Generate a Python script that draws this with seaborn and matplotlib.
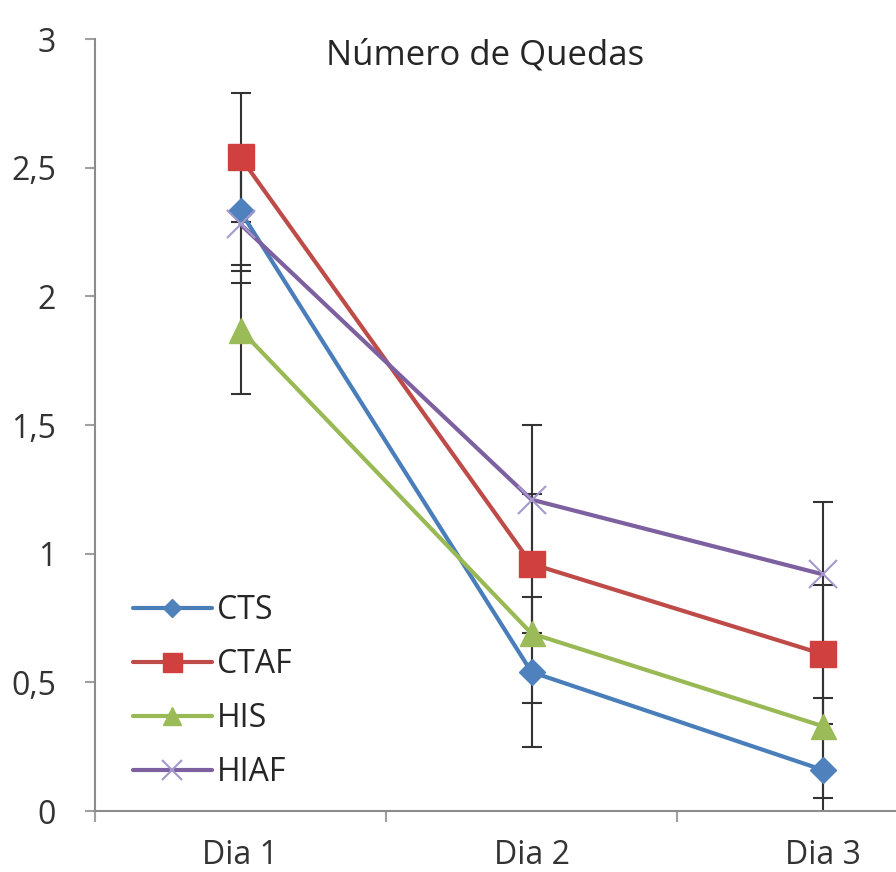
import seaborn as sns
import matplotlib.pyplot as plt
import pandas as pd
from matplotlib.ticker import FixedLocator

dias = ['Dia 1', 'Dia 2', 'Dia 3']
grupos = ['CTS', 'CTAF', 'HIS', 'HIAF']

cts = [2.33, 0.54, 0.16]
ctaf = [2.54, 0.96, 0.61]
his = [1.87, 0.69, 0.33]
hiaf = [2.28, 1.21, 0.92]

cts_err = [0.23, 0.29, 0.28]
ctaf_err = [0.25, 0.27, 0.27]
his_err = [0.25, 0.27, 0.28]
hiaf_err = [0.23, 0.29, 0.28]

yticks = [0, 0.5, 1, 1.5, 2, 2.5, 3]
ytick_labels = ['0', '0,5', '1', '1,5', '2', '2,5', '3']

valores = {'CTS': cts, 'CTAF': ctaf, 'HIS': his, 'HIAF': hiaf}
erros = {'CTS': cts_err, 'CTAF': ctaf_err, 'HIS': his_err, 'HIAF': hiaf_err}

sns.set_style('white')
plt.rcParams['font.family'] = ['Open Sans', 'DejaVu Sans']

# estilo de cada serie (cor da linha, cor do marcador, marcador, tamanho)
estilo = {
    'CTS': ('#4A7EBB', '#4F81BD', 'D', 13),
    'CTAF': ('#BE4B48', '#D0403F', 's', 19),
    'HIS': ('#98B954', '#9BBB59', '^', 18),
    'HIAF': ('#7D60A0', '#A498CC', 'x', 20),
}

fig = plt.figure(figsize=(8.96, 8.72), dpi=100)
ax = fig.add_axes([95 / 896, 61 / 872, 873 / 896, 772 / 872])

for g in grupos:
    df = pd.DataFrame({'dia': dias, 'valor': valores[g], 'erro': erros[g]})
    ax.errorbar(df['dia'], df['valor'], yerr=df['erro'], fmt='none',
                ecolor='#333333', elinewidth=1.5, capsize=7.5, capthick=1.5,
                zorder=1.5)

for g in grupos:
    df = pd.DataFrame({'dia': dias, 'valor': valores[g]})
    cor, cor_m, mk, ms = estilo[g]
    if mk == 'x':
        sns.lineplot(x='dia', y='valor', data=df, ax=ax, label=g, color=cor,
                     linewidth=3, marker=mk, markersize=ms,
                     markeredgecolor=cor_m, markeredgewidth=1.5, zorder=3)
    else:
        sns.lineplot(x='dia', y='valor', data=df, ax=ax, label=g, color=cor,
                     linewidth=3, marker=mk, markersize=ms,
                     markerfacecolor=cor_m, markeredgecolor=cor_m,
                     markeredgewidth=1, zorder=3)

ax.set_xlim(-0.5, 2.5)
ax.set_ylim(0, 3)
ax.set_yticks(yticks)
ax.set_yticklabels(ytick_labels)
ax.set_xlabel('')
ax.set_ylabel('')

ax.xaxis.set_minor_locator(FixedLocator([-0.5, 0.5, 1.5, 2.5]))
ax.tick_params(axis='x', which='major', length=0, pad=20, labelsize=23,
               labelcolor='#333333')
ax.tick_params(axis='x', which='minor', length=8, width=1.5, color='#A0A0A0',
               direction='out', bottom=True)
ax.tick_params(axis='y', length=7, width=1.5, color='#A0A0A0', direction='out',
               left=True, pad=21, labelsize=23, labelcolor='#333333')

for s in ['top', 'right']:
    ax.spines[s].set_visible(False)
for s in ['left', 'bottom']:
    ax.spines[s].set_color('#8C8C8C')
    ax.spines[s].set_linewidth(1.5)

fig.text(485 / 896, 1 - 55 / 872, 'Número de Quedas', ha='center', va='center',
         fontsize=25, color='#262626')

ax.legend(loc='upper left', bbox_to_anchor=(133 / 896, 1 - 594 / 872),
          bbox_transform=fig.transFigure, frameon=False, fontsize=23,
          handlelength=2.47, handletextpad=0.16, labelspacing=0.66,
          borderpad=0, borderaxespad=0, markerscale=0.72)

fig.savefig('out.png', dpi=100)
